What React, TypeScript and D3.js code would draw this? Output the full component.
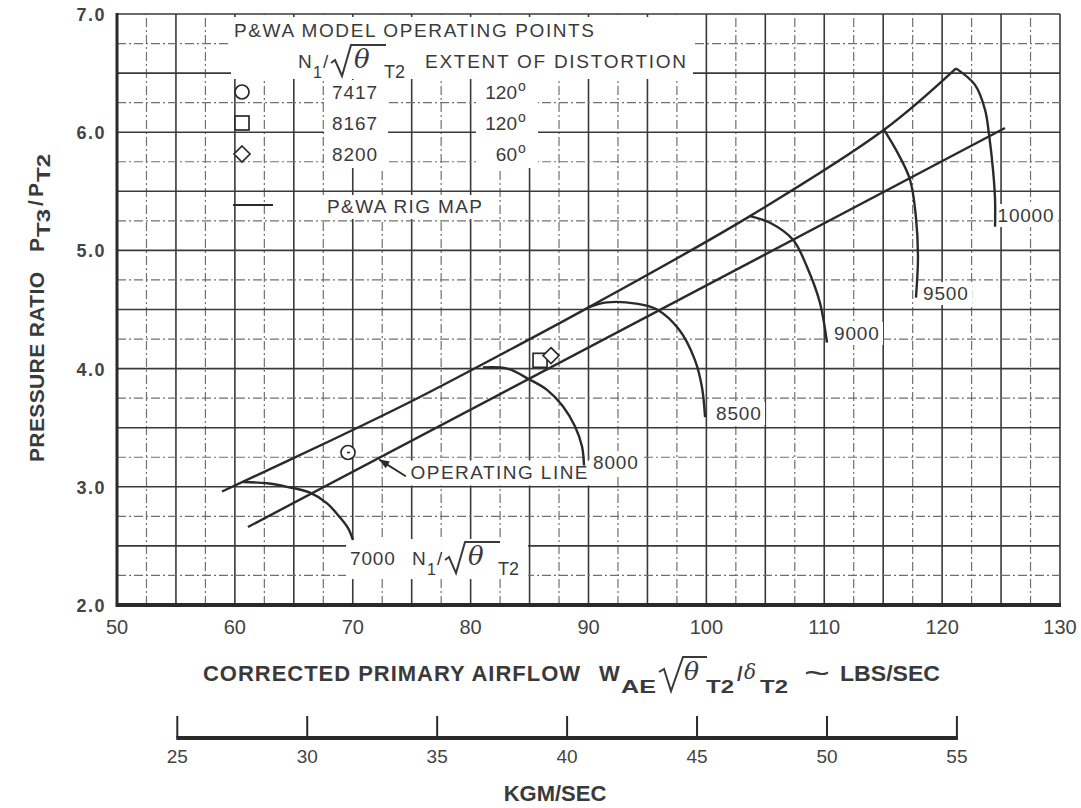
import React from 'react';
import * as d3 from 'd3';

// ---------- data ----------
const xTicks = [50, 60, 70, 80, 90, 100, 110, 120, 130];
const yTicks = [2, 3, 4, 5, 6, 7];
const kgTicks = [25, 30, 35, 40, 45, 50, 55];
const LB_PER_KG = 2.20462;

// upper boundary of the P&WA rig map (surge line)
const surgeLine: number[][] = [
  [58.91, 2.96], [68.32, 3.40], [75.11, 3.73], [82.49, 4.115],
  [90.04, 4.52], [103.7, 5.29], [115.07, 6.02], [121.18, 6.54],
];
const operatingLine: number[][] = [[61.11, 2.66], [125.33, 6.035]];

const speed7000 = [[60.69, 3.04], [62.73, 3.03], [64.42, 3.0], [66.37, 2.95], [67.82, 2.86], [68.92, 2.74], [69.6, 2.65], [70.02, 2.55]];
const speed8000 = [[81.05, 4.01], [83.09, 4.0], [84.95, 3.91], [86.48, 3.82], [87.84, 3.68], [88.86, 3.51], [89.45, 3.34], [89.62, 3.18]];
const speed8500 = [[90.04, 4.52], [91.57, 4.56], [94.03, 4.55], [95.81, 4.5], [97.68, 4.33], [99.04, 4.07], [99.63, 3.84], [99.89, 3.59]];
const speed9000 = [[103.7, 5.29], [105.48, 5.23], [107.35, 5.09], [108.54, 4.86], [109.64, 4.555], [110.23, 4.22]];
const speed9500 = [[115.07, 6.02], [116.09, 5.85], [117.27, 5.6], [117.78, 5.28], [117.95, 4.94], [117.78, 4.6]];
const speed10000 = [[121.18, 6.54], [122.79, 6.4], [123.64, 6.19], [123.98, 5.98], [124.32, 5.68], [124.49, 5.43], [124.49, 5.2]];
const speedLines = [speed7000, speed8000, speed8500, speed9000, speed9500, speed10000];

const speedLabelText = ['7000', '8000', '8500', '9000', '9500', '10000'];
const speedLabelX = [69.77, 90.38, 100.82, 110.83, 118.38, 124.7];
const speedLabelY = [2.338, 3.15, 3.565, 4.242, 4.58, 5.24];

const pointShapes = ['circle', 'square', 'diamond'];
const pointSpeeds = ['7417', '8167', '8200'];
const pointDistortion = ['120', '120', '60'];
const pointX = [69.6, 85.89, 86.82];
const pointY = [3.29, 4.07, 4.11];

const opLabelAt = [74.9, 3.07];
const opArrowTail = [74.5, 3.09];
const opArrowTip = [72.25, 3.23];

// ---------- style ----------
const F = "'Liberation Sans', Arial, Helvetica, sans-serif";
const SERIF = "'DejaVu Serif', 'Liberation Serif', serif";
const INK = '#2a2a2a';
const TXT = '#3a3a3a';

function Marker({ shape, cx, cy, s = 7 }: { shape: string; cx: number; cy: number; s?: number }) {
  const common = { fill: 'white', stroke: INK, strokeWidth: 1.7 };
  if (shape === 'circle') return <circle cx={cx} cy={cy} r={s} {...common} />;
  if (shape === 'square') return <rect x={cx - s} y={cy - s} width={2 * s} height={2 * s} {...common} />;
  return <path d={`M${cx},${cy - s - 1}L${cx + s + 1},${cy}L${cx},${cy + s + 1}L${cx - s - 1},${cy}Z`} {...common} />;
}

// N1/sqrt(theta)T2 group, origin = left of "N" on its baseline
function NRoot({ x0, y0 }: { x0: number; y0: number }) {
  return (
    <g transform={`translate(${x0},${y0})`} fill={TXT} fontFamily={F}>
      <text x={0} y={0} fontSize={19}>N</text>
      <text x={15} y={10} fontSize={16}>1</text>
      <text x={25} y={0} fontSize={19}>/</text>
      <path d="M33,-5 L37,-8 L44,8 L53,-23 L88,-23" fill="none" stroke={TXT} strokeWidth={2} />
      <text x={56} y={0} fontSize={26} fontStyle="italic" fontFamily={SERIF}>θ</text>
      <text x={86} y={10} fontSize={18}>T2</text>
    </g>
  );
}

export default function App() {
  const W = 1081, H = 808;
  const L = 117, R = 1060, T = 14, B = 605;
  const x = d3.scaleLinear().domain([50, 130]).range([L, R]);
  const y = d3.scaleLinear().domain([2, 7]).range([B, T]);
  const xKg = d3.scaleLinear().domain([50 / LB_PER_KG, 130 / LB_PER_KG]).range([L, R]);

  const curve = d3.line<number[]>().x(d => x(d[0])).y(d => y(d[1])).curve(d3.curveCatmullRom.alpha(0.5));
  const straight = d3.line<number[]>().x(d => x(d[0])).y(d => y(d[1]));

  const vGrid = d3.range(50, 130.001, 2.5);
  const hGrid = d3.range(2, 7.001, 0.25);

  const isMajor = (v: number, step: number) => Math.abs(v / step - Math.round(v / step)) < 1e-6;

  // arrow
  const ax1 = x(opArrowTail[0]), ay1 = y(opArrowTail[1]);
  const ax2 = x(opArrowTip[0]), ay2 = y(opArrowTip[1]);
  const ang = Math.atan2(ay2 - ay1, ax2 - ax1);
  const ah = 10, aw = 4;
  const head = `M${ax2},${ay2}L${ax2 - ah * Math.cos(ang) + aw * Math.sin(ang)},${ay2 - ah * Math.sin(ang) - aw * Math.cos(ang)}L${ax2 - ah * Math.cos(ang) - aw * Math.sin(ang)},${ay2 - ah * Math.sin(ang) + aw * Math.cos(ang)}Z`;

  const legendRowY = [92, 123, 154];
  const SG = 'spacingAndGlyphs';

  return (
    <div style={{ position: 'absolute', left: 0, top: 0 }}>
      <svg width={W} height={H} viewBox={`0 0 ${W} ${H}`} style={{ display: 'block', background: '#fff' }}>
        <rect width={W} height={H} fill="#fff" />
        {/* grid */}
        <g>
          {vGrid.map(v => {
            const major = isMajor(v, 5);
            return (
              <line key={'v' + v} x1={x(v)} x2={x(v)} y1={y(2)} y2={y(7)}
                stroke={major ? '#3a3a3a' : '#707070'} strokeWidth={major ? 1.6 : 1.2}
                strokeDasharray={major ? undefined : '9 3 2 3'} />
            );
          })}
          {hGrid.map(v => {
            const major = isMajor(v, 0.5);
            return (
              <line key={'h' + v} y1={y(v)} y2={y(v)} x1={x(50)} x2={x(130)}
                stroke={major ? '#3a3a3a' : '#707070'} strokeWidth={major ? 1.6 : 1.2}
                strokeDasharray={major ? undefined : '9 3 2 3'} />
            );
          })}
        </g>

        {/* white patches behind legend / labels */}
        <g fill="#fff">
          <rect x={231} y={17} width={462} height={62} />
          <rect x={324} y={80} width={64} height={88} />
          <rect x={476} y={78} width={62} height={90} />
          <rect x={322} y={195} width={166} height={24} />
          <rect x={x(opLabelAt[0]) - 4} y={y(opLabelAt[1]) - 18} width={186} height={25} />
          <rect x={x(speedLabelX[0]) - 4} y={y(speedLabelY[0]) - 26} width={182} height={40} />
          {speedLabelText.slice(1).map((t, i) => (
            <rect key={t} x={x(speedLabelX[i + 1]) - 3} y={y(speedLabelY[i + 1]) - 18} width={t.length * 11.5 + 6} height={23} />
          ))}
        </g>

        {/* axes frame */}
        <line x1={L} x2={L} y1={T - 1} y2={B + 2} stroke="#2a2a2a" strokeWidth={3} />
        <line x1={L - 1} x2={R + 1} y1={B} y2={B} stroke="#2a2a2a" strokeWidth={4} />

        {/* map lines */}
        <path d={curve(surgeLine) || ''} fill="none" stroke={INK} strokeWidth={2.4} />
        <path d={straight(operatingLine) || ''} fill="none" stroke={INK} strokeWidth={2.4} />
        {speedLines.map((s, i) => (
          <path key={i} d={curve(s) || ''} fill="none" stroke={INK} strokeWidth={2.4} />
        ))}

        {/* operating points */}
        {pointShapes.map((s, i) => (
          <Marker key={s} shape={s} cx={x(pointX[i])} cy={y(pointY[i])} s={7} />
        ))}
        <line x1={x(pointX[0]) - 1} x2={x(pointX[0]) + 2} y1={y(pointY[0])} y2={y(pointY[0])} stroke={INK} strokeWidth={1.6} />

        {/* speed labels */}
        <g fontFamily={F} fontSize={19} fill={TXT}>
          {speedLabelText.map((t, i) => (
            <text key={t} x={x(speedLabelX[i])} y={y(speedLabelY[i])} textLength={t.length * 11.2} lengthAdjust="spacing">{t}</text>
          ))}
        </g>
        <NRoot x0={x(speedLabelX[0]) + 62} y0={y(speedLabelY[0])} />

        {/* operating line label + arrow */}
        <line x1={ax1} y1={ay1} x2={ax2} y2={ay2} stroke={INK} strokeWidth={1.8} />
        <path d={head} fill={INK} />
        <text x={x(opLabelAt[0])} y={y(opLabelAt[1])} fontFamily={F} fontSize={19} fill={TXT} textLength={177} lengthAdjust="spacing">OPERATING LINE</text>

        {/* legend */}
        <g fontFamily={F} fill={TXT}>
          <text x={234} y={37} fontSize={19} textLength={360} lengthAdjust="spacing">P&amp;WA MODEL OPERATING POINTS</text>
          <NRoot x0={298} y0={68} />
          <text x={425} y={68} fontSize={19} textLength={261} lengthAdjust="spacing">EXTENT OF DISTORTION</text>
          {pointShapes.map((s, i) => (
            <g key={s}>
              <Marker shape={s} cx={242} cy={legendRowY[i]} s={7} />
              <text x={332} y={legendRowY[i] + 7} fontSize={19} textLength={45} lengthAdjust="spacing">{pointSpeeds[i]}</text>
              <text x={517} y={legendRowY[i] + 7} fontSize={19} textAnchor="end">{pointDistortion[i]}</text>
              <text x={518} y={legendRowY[i] - 1} fontSize={14}>o</text>
            </g>
          ))}
          <line x1={233} x2={273} y1={205} y2={205} stroke={INK} strokeWidth={2} />
          <text x={327} y={213} fontSize={19} textLength={155} lengthAdjust="spacing">P&amp;WA RIG MAP</text>
        </g>

        {/* y tick labels */}
        <g fontFamily={F} fontWeight="bold" fontSize={18} fill="#444">
          {yTicks.map(t => (
            <text key={t} x={106} y={y(t) + 7} textAnchor="end" letterSpacing={1.5}>{t.toFixed(1)}</text>
          ))}
        </g>
        {/* x tick labels */}
        <g fontFamily={F} fontSize={20} fill="#444">
          {xTicks.map(t => (
            <text key={t} x={x(t)} y={634} textAnchor="middle">{t}</text>
          ))}
        </g>

        {/* y axis title */}
        <g transform="translate(44,462) rotate(-90)" fontFamily={F} fontWeight="bold" fill={TXT}>
          <text x={0} y={0} fontSize={21} textLength={190} lengthAdjust="spacing">PRESSURE RATIO</text>
          <text x={210} y={0} fontSize={21}>P</text>
          <text x={225} y={6} fontSize={18} textLength={28} lengthAdjust={SG}>T3</text>
          <text x={256} y={-1} fontSize={21}>/</text>
          <text x={265} y={-1} fontSize={21}>P</text>
          <text x={280} y={6} fontSize={18} textLength={28} lengthAdjust={SG}>T2</text>
        </g>

        {/* x axis title */}
        <g fontFamily={F} fontWeight="bold" fill={TXT}>
          <text x={203} y={681} fontSize={22} textLength={377} lengthAdjust="spacing">CORRECTED PRIMARY AIRFLOW</text>
          <text x={599} y={681} fontSize={22}>W</text>
          <text x={621} y={693} fontSize={19} textLength={35} lengthAdjust={SG}>AE</text>
          <path d="M659,672 L664,669 L671,691 L683,657 L707,657" fill="none" stroke={TXT} strokeWidth={2} />
          <text x={684} y={680} fontSize={25} fontWeight="normal" fontStyle="italic" fontFamily={SERIF}>θ</text>
          <text x={706} y={693} fontSize={19} textLength={28} lengthAdjust={SG}>T2</text>
          <text x={737} y={681} fontSize={20}>/</text>
          <text x={744} y={679} fontSize={20} fontWeight="normal" fontStyle="italic" fontFamily={SERIF}>δ</text>
          <text x={760} y={693} fontSize={19} textLength={28} lengthAdjust={SG}>T2</text>
          <text x={804} y={684} fontSize={32} fontWeight="normal" textLength={26} lengthAdjust={SG}>~</text>
          <text x={840} y={681} fontSize={22} textLength={100} lengthAdjust={SG}>LBS/SEC</text>
        </g>

        {/* secondary kg axis */}
        <line x1={xKg(25) - 1} x2={xKg(55) + 1} y1={738} y2={738} stroke="#2a2a2a" strokeWidth={4} />
        {kgTicks.map(t => (
          <line key={t} x1={xKg(t)} x2={xKg(t)} y1={738} y2={716} stroke="#2a2a2a" strokeWidth={2} />
        ))}
        <g fontFamily={F} fontSize={19} fill="#444">
          {kgTicks.map(t => (
            <text key={t} x={xKg(t)} y={763} textAnchor="middle">{t}</text>
          ))}
        </g>
        <text x={555} y={801} textAnchor="middle" fontFamily={F} fontWeight="bold" fontSize={22} fill={TXT}>KGM/SEC</text>
      </svg>
    </div>
  );
}
